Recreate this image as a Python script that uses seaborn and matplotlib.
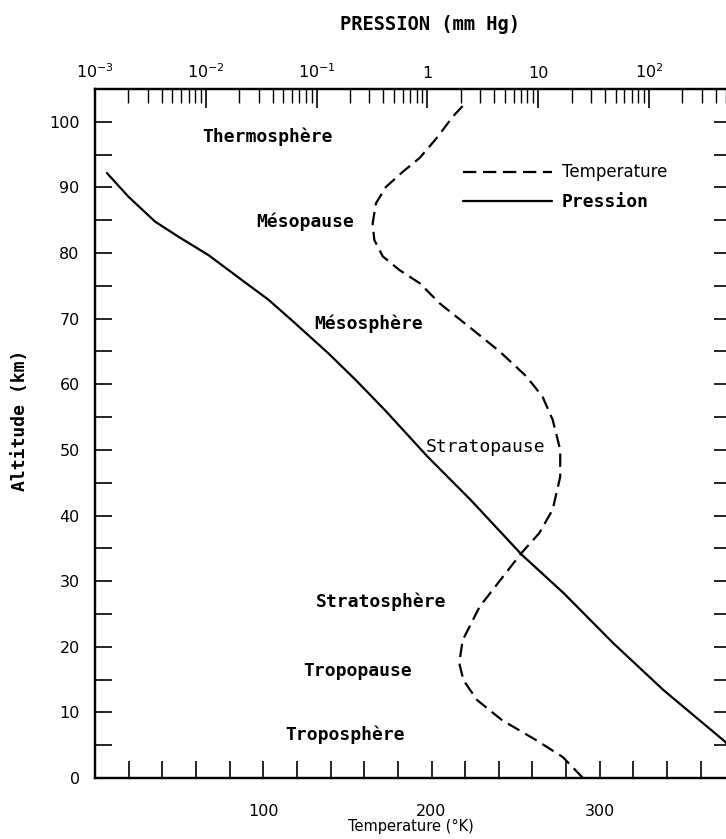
import matplotlib
matplotlib.use("Agg")
import numpy as np
import pandas as pd
import seaborn as sns
import matplotlib.pyplot as plt
from matplotlib.ticker import MultipleLocator, FixedLocator, FixedFormatter, LogLocator, NullFormatter
from matplotlib.lines import Line2D

# ---------------- data ----------------
temp_alt_km = [0, 3.2, 5.8, 8.8, 11.9, 14.9, 17.5, 21.0, 26.1, 30.7, 34.3, 37.3, 40.9,
               45.9, 50.0, 54.6, 58.1, 61.2, 65.0, 68.3, 72.3, 75.4, 77.4, 79.5, 82.0,
               84.5, 87.6, 90.1, 92.4, 94.5, 97.5, 100.8, 102.7]
temp_k = [290, 278, 262, 242, 227, 219, 216.5, 218.5, 228.6, 242.5, 253.5, 264, 272,
          276.5, 276.5, 272, 266, 256.4, 240.5, 224.6, 205, 193, 181, 171, 166,
          165, 167, 173, 183, 193, 203, 212.7, 219.6]

pres_alt_km = [0, 5.5, 13.4, 20.5, 28.2, 34.0, 42.4, 49.0, 56.0, 60.7, 64.7, 69.3,
               72.9, 75.9, 79.7, 82.5, 84.8, 88.6, 92.2]
pres_mmhg = [760, 489, 135, 47.9, 16.9, 7.13, 2.45, 1.0, 0.417, 0.224, 0.128, 0.064,
             0.0367, 0.0211, 0.01054, 0.00565, 0.00348, 0.0020, 0.00128]

layer_names = ["Thermosphère", "Mésopause", "Mésosphère", "Stratopause",
               "Stratosphère", "Tropopause", "Troposphère"]
layer_temp = [63.7, 95.7, 130.4, 196.8, 131.0, 123.8, 113.0]
layer_alt = [97.7, 84.8, 69.3, 50.5, 26.8, 16.3, 6.6]
layer_bold = [True, True, True, False, True, True, True]

temp_ticks = [100, 200, 300]
alt_ticks = list(range(0, 101, 10))
pres_ticks = [1e-3, 1e-2, 1e-1, 1, 10, 100]
pres_ticklabels = [r"$10^{-3}$", r"$10^{-2}$", r"$10^{-1}$", "1", "10", r"$10^{2}$"]

temp_df = pd.DataFrame({"T": temp_k, "alt": temp_alt_km})
pres_df = pd.DataFrame({"P": pres_mmhg, "alt": pres_alt_km})

# ---------------- figure ----------------
sns.set_theme(style="white")
plt.rcParams["font.family"] = ["DejaVu Sans"]
plt.rcParams["mathtext.fontset"] = "dejavusans"
plt.rcParams["text.color"] = "black"
plt.rcParams["axes.labelcolor"] = "black"
plt.rcParams["xtick.color"] = "black"
plt.rcParams["ytick.color"] = "black"

W, H = 726, 839
fig = plt.figure(figsize=(W / 100, H / 100), dpi=100)
L, R, T, B = 95, 731, 89, 778
ax = fig.add_axes([L / W, 1 - B / H, (R - L) / W, (B - T) / H])

sns.lineplot(data=temp_df, x="T", y="alt", orient="y", ax=ax, color="black",
             lw=1.6, linestyle=(0, (6, 3)), estimator=None)
ax.set_xlim(0, 378)
ax.set_ylim(0, 105)
ax.set_xlabel("")
ax.set_ylabel("")

for s in ax.spines.values():
    s.set_color("black")
    s.set_linewidth(1.6)

ax.xaxis.set_major_locator(FixedLocator(temp_ticks))
ax.xaxis.set_minor_locator(MultipleLocator(20))
ax.yaxis.set_major_locator(FixedLocator(alt_ticks))
ax.yaxis.set_minor_locator(MultipleLocator(5))
ax.tick_params(axis="both", which="both", direction="in", length=12, width=1.2,
               color="black", labelcolor="black", labelsize=11.5)
ax.tick_params(axis="x", which="both", bottom=True, top=False, pad=19)
ax.tick_params(axis="y", which="both", left=True, right=True, labelright=False, pad=11)

ax2 = ax.twiny()
sns.lineplot(data=pres_df, x="P", y="alt", orient="y", ax=ax2, color="black",
             lw=1.6, estimator=None)
ax2.set_xscale("log")
ax2.set_xlim(1e-3, 10 ** 2.74)
ax2.set_ylim(0, 105)
ax2.set_xlabel("")
ax2.set_ylabel("")
ax2.xaxis.set_major_locator(FixedLocator(pres_ticks))
ax2.xaxis.set_major_formatter(FixedFormatter(pres_ticklabels))
ax2.xaxis.set_minor_locator(LogLocator(base=10, subs=np.arange(2, 10), numticks=20))
ax2.xaxis.set_minor_formatter(NullFormatter())
ax2.tick_params(axis="x", which="major", direction="in", length=14, width=1.2,
                color="black", labelcolor="black", labelsize=11.5, pad=6,
                top=True, bottom=False)
ax2.tick_params(axis="x", which="minor", direction="in", length=10, width=1.0,
                color="black", top=True, bottom=False)
for s in ax2.spines.values():
    s.set_color("black")
    s.set_linewidth(1.6)

# region labels
for name, tx, ty, bold in zip(layer_names, layer_temp, layer_alt, layer_bold):
    ax.text(tx, ty, name, ha="left", va="center", fontsize=13,
            family="DejaVu Sans Mono", fontweight="bold" if bold else "normal",
            color="black")

# legend
handles = [Line2D([], [], color="black", lw=1.6, linestyle=(0, (6, 3))),
           Line2D([], [], color="black", lw=1.6)]
leg = ax2.legend(handles, ["Temperature", "Pression"], loc="upper left",
                 bbox_to_anchor=(0.579, 0.892), frameon=False, fontsize=12,
                 handlelength=5.3, handletextpad=0.6, labelspacing=0.7,
                 borderpad=0, borderaxespad=0)
for t in leg.get_texts():
    t.set_color("black")
leg.get_texts()[1].set_family("DejaVu Sans Mono")
leg.get_texts()[1].set_fontweight("bold")
leg.get_texts()[1].set_fontsize(13)

# axis titles
fig.text(430 / W, 1 - 25 / H, "PRESSION (mm Hg)", ha="center", va="center",
         fontsize=13.5, family="DejaVu Sans Mono", fontweight="bold", color="black")
fig.text(20 / W, 1 - 420 / H, "Altitude (km)", ha="center", va="center",
         rotation=90, fontsize=13, family="DejaVu Sans Mono", fontweight="bold",
         color="black")
fig.text(411 / W, 1 - 826 / H, "Temperature (°K)", ha="center", va="center",
         fontsize=10.5, color="black")

fig.savefig("out.png", dpi=100)
